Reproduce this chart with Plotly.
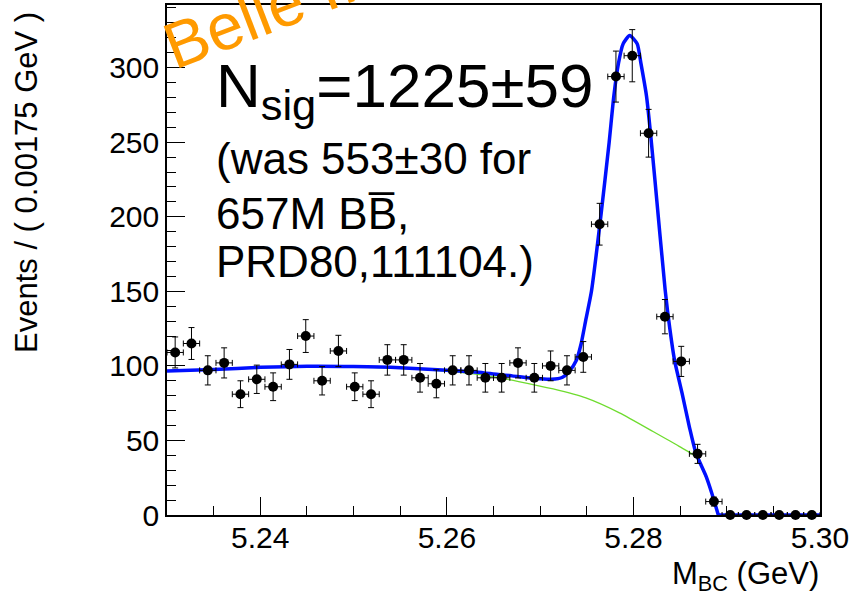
import plotly.graph_objects as go

# ---------------- data ----------------
x_lo, x_hi, bin_w = 5.23, 5.30, 0.00175
counts = [109, 115, 97, 102, 81, 91, 86, 101, 120, 90,
          110, 86, 81, 104, 104, 92, 88, 97, 97, 92,
          92, 102, 92, 100, 97, 106, 195, 294, 308, 256,
          133, 103, 41, 9, 0, 0, 0, 0, 0, 0]
errs = [10.4, 10.7, 9.8, 10.1, 9.0, 9.5, 9.3, 10.0, 11.0, 9.5,
        10.5, 9.3, 9.0, 10.2, 10.2, 9.6, 9.4, 9.8, 9.8, 9.6,
        9.6, 10.1, 9.6, 10.0, 9.8, 10.3, 14.0, 17.1, 17.5, 16.0,
        11.5, 10.1, 6.4, 3.0, 0, 0, 0, 0, 0, 0]
centers = [x_lo + (i + 0.5) * bin_w for i in range(len(counts))]

# total fit
fit_x = [5.2300, 5.2350, 5.2400, 5.2450, 5.2500, 5.2550, 5.2600, 5.2640, 5.2670,
         5.2695, 5.2712, 5.2724, 5.2731, 5.2739, 5.2744, 5.2749, 5.2755, 5.2765,
         5.2774, 5.2779, 5.2784, 5.2789, 5.2796, 5.2804, 5.2808, 5.2814, 5.2818,
         5.2823, 5.2834, 5.2839, 5.2844, 5.2852, 5.2860, 5.2867, 5.2878, 5.2884,
         5.2891]
fit_y = [96.6, 97.5, 99.0, 99.8, 99.6, 98.8, 97.0, 95.3, 93.3,
         91.5, 91.0, 92.4, 96.2, 104, 115, 131, 150, 200,
         250, 281, 303, 316, 321.5, 316, 303, 281, 258,
         225, 151, 125, 104, 82, 59, 41.5, 25.7, 14.6,
         0]
tail_x = [5.2891, 5.3000]
tail_y = [0, 0]

# background component
bkg_x = [5.2300, 5.2350, 5.2400, 5.2450, 5.2500, 5.2550, 5.2600, 5.2640, 5.2677,
         5.2714, 5.2749, 5.2785, 5.2821, 5.2849, 5.2867, 5.2878, 5.2884, 5.2891]
bkg_y = [96.4, 97.3, 98.8, 99.5, 99.3, 98.3, 96.3, 93.8, 89.5,
         84.5, 78.5, 68.5, 56.0, 46.0, 39.0, 24.5, 14.0, 0]

# ---------------- figure ----------------
W, H = 851, 601
L, R, T, B = 167, 31, 5, 86
PW, PH = W - L - R, H - T - B


def px(x):
    return (x - L) / PW


def py(y):
    return (H - B - y) / PH


FONT = "Liberation Sans, Arial, Helvetica, sans-serif"

fig = go.Figure()

fig.add_trace(go.Scatter(x=bkg_x, y=bkg_y, mode="lines", line=dict(color="#6edc2e", width=1.3, shape="spline", smoothing=0.6),
                         cliponaxis=False, hoverinfo="skip", showlegend=False))
fig.add_trace(go.Scatter(x=fit_x, y=fit_y, mode="lines", line=dict(color="#0010ff", width=3.5, shape="spline", smoothing=0.6),
                         cliponaxis=False, hoverinfo="skip", showlegend=False))
fig.add_trace(go.Scatter(x=tail_x, y=tail_y, mode="lines", line=dict(color="#0010ff", width=3.5),
                         cliponaxis=False, hoverinfo="skip", showlegend=False))

fig.add_trace(go.Scatter(
    x=centers, y=counts, mode="markers",
    marker=dict(color="black", size=10),
    error_y=dict(type="data", array=errs, color="black", thickness=1, width=3),
    error_x=dict(type="constant", value=bin_w / 2, color="black", thickness=1, width=3),
    cliponaxis=False, showlegend=False))

axis_common = dict(showgrid=False, zeroline=False, showline=True, linecolor="black", linewidth=1.5,
                   mirror=True, ticks="inside", tickcolor="black", tickwidth=1.2, ticklen=18,
                   tickfont=dict(family=FONT, size=30, color="black"), layer="below traces")

fig.update_xaxes(range=[x_lo, x_hi], dtick=0.02, tick0=5.24, tickformat=".2f", ticklabelstandoff=-5,
                 minor=dict(dtick=0.005, tick0=5.235, ticks="inside", ticklen=9, tickcolor="black", tickwidth=1.2),
                 **axis_common)
fig.update_yaxes(range=[0, 342], dtick=50, tick0=0,
                 minor=dict(dtick=10, ticks="inside", ticklen=9, tickcolor="black", tickwidth=1.2),
                 **axis_common)

ann = []
ann.append(dict(text="Events / ( 0.00175 GeV )", x=px(26), y=py(183), textangle=-90,
                font=dict(family=FONT, size=31, color="black")))
ann.append(dict(text="M<sub>BC</sub> (GeV)", x=px(821), y=py(576), xanchor="right",
                font=dict(family=FONT, size=31, color="black")))
ann.append(dict(text="N<sub>sig</sub>=1225±59", x=px(214), y=py(90), xanchor="left",
                font=dict(family=FONT, size=62, color="black")))
ann.append(dict(text="(was 553±30 for", x=px(214), y=py(158), xanchor="left",
                font=dict(family=FONT, size=44, color="black")))
ann.append(dict(text="657M BB\u0305,", x=px(214), y=py(213), xanchor="left",
                font=dict(family=FONT, size=44, color="black")))
ann.append(dict(text="PRD80,111104.)", x=px(214), y=py(261), xanchor="left",
                font=dict(family=FONT, size=44, color="black")))
ann.append(dict(text="Belle II", x=px(259), y=py(13), textangle=-21,
                font=dict(family=FONT, size=65, color="#ff9a00")))

for a in ann:
    a.setdefault("xanchor", "center")
    a.setdefault("yanchor", "middle")
    a.update(xref="paper", yref="paper", showarrow=False)

fig.update_layout(width=W, height=H, margin=dict(l=L, r=R, t=T, b=B, autoexpand=False),
                  paper_bgcolor="white", plot_bgcolor="white", annotations=ann)

fig.write_html("out.html")
